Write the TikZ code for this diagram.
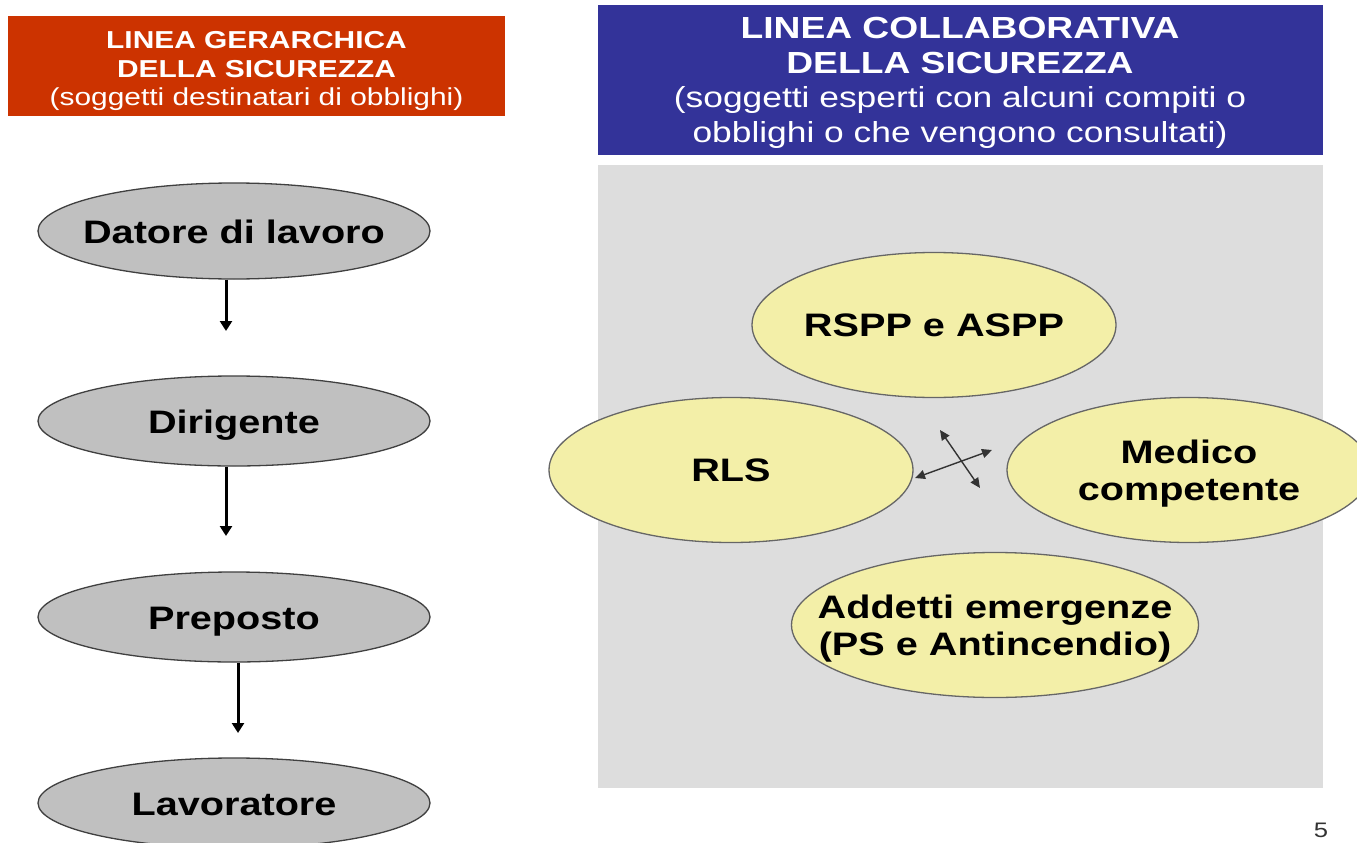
\documentclass[tikz,border=0pt]{standalone}
\usepackage{fontspec}
\setmainfont{Liberation Sans}[FakeStretch=1.22]
\usetikzlibrary{shapes.geometric,arrows.meta}
\definecolor{hdrred}{HTML}{CC3300}
\definecolor{hdrblue}{HTML}{333399}
\definecolor{panelgray}{HTML}{DDDDDD}
\definecolor{ellgray}{HTML}{C0C0C0}
\definecolor{ellyellow}{HTML}{F3EFA8}
\newcommand{\zbox}[1]{\makebox[0pt][c]{\raisebox{-4.5pt}[\height][\depth]{\begin{tabular}{@{}c@{}}#1\end{tabular}}}}
\begin{document}
\begin{tikzpicture}[x=1pt,y=-1pt,
  gnode/.style={ellipse, draw=black!75, fill=ellgray, line width=1.3pt,
    minimum width=392pt, minimum height=90pt, inner sep=0pt,
    font=\fontsize{32.5}{38}\selectfont\bfseries},
  ynode/.style={ellipse, draw=black!60, fill=ellyellow, line width=1.3pt,
    minimum width=364pt, minimum height=145pt, inner sep=0pt,
    font=\fontsize{32.5}{37}\selectfont\bfseries},
  downarrow/.style={line width=3pt, -{Triangle[length=10pt,width=12pt]}},
  xarrow/.style={line width=1.4pt, draw=black!80,
    {Triangle[length=10pt,width=9pt]}-{Triangle[length=10pt,width=9pt]}}]
\useasboundingbox (0,0) rectangle (1357,843);
\clip (0,0) rectangle (1357,843);
\fill[white] (0,0) rectangle (1357,843);
% left header
\fill[hdrred] (8,16) rectangle (505,116);
\node[text=white, align=center, inner sep=0pt, font=\fontsize{24.5}{28.5}\selectfont] (hl) at (256.5,71)
  {\textbf{LINEA GERARCHICA}\\\textbf{DELLA SICUREZZA}\\(soggetti destinatari di obblighi)};
% right header
\fill[hdrblue] (598,5) rectangle (1323,155);
\node[text=white, align=center, inner sep=0pt, font=\fontsize{29}{34.5}\selectfont] (hr) at (960,83)
  {{\fontsize{30.5}{35}\selectfont\bfseries LINEA COLLABORATIVA}\\{\fontsize{30.5}{35}\selectfont\bfseries DELLA SICUREZZA}\\(soggetti esperti con alcuni compiti o\\obblighi o che vengono consultati)};
% panel
\fill[panelgray] (598,165) rectangle (1323,788);
% left chain
\node[gnode, minimum height=96pt] (datore) at (234,231) {\zbox{Datore di lavoro}};
\node[gnode] (dirigente) at (234,421) {\zbox{Dirigente}};
\node[gnode] (preposto) at (234,617) {\zbox{Preposto}};
\node[gnode] (lavoratore) at (234,803) {\zbox{Lavoratore}};
\coordinate (a1) at (226,331);
\coordinate (a2) at (226,536);
\coordinate (a3) at (238,733);
\draw[downarrow] (datore.south -| a1) -- (a1);
\draw[downarrow] (dirigente.south -| a2) -- (a2);
\draw[downarrow] (preposto.south -| a3) -- (a3);
% right ellipses
\node[ynode] (rspp) at (934,325) {\zbox{RSPP e ASPP}};
\node[ynode] (rls) at (731,470) {\zbox{RLS}};
\node[ynode] (medico) at (1189,470) {\zbox{Medico\\competente}};
\node[ynode, minimum width=407pt] (addetti) at (995,625) {\zbox{Addetti emergenze\\(PS e Antincendio)}};
% cross arrows
\coordinate (c1) at (915,478);
\coordinate (c2) at (992,450);
\coordinate (c3) at (940,430);
\coordinate (c4) at (980,488);
\draw[xarrow] (c1) -- (c2);
\draw[xarrow] (c3) -- (c4);
% page number
\node[font=\fontsize{21}{24}\selectfont, text=black!80] (pg) at (1321,830) {5};
\end{tikzpicture}
\end{document}
